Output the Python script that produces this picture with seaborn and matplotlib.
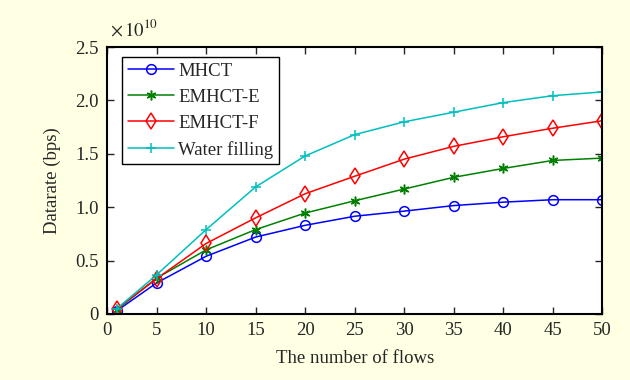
import numpy as np
import pandas as pd
import matplotlib
matplotlib.use("Agg")
import matplotlib.pyplot as plt
import seaborn as sns

# data (values in units of 1e10 bps)
flows = [1, 5, 10, 15, 20, 25, 30, 35, 40, 45, 50]
mhct = [0.03, 0.29, 0.54, 0.72, 0.83, 0.915, 0.963, 1.015, 1.047, 1.07, 1.07]
emhct_e = [0.04, 0.335, 0.60, 0.79, 0.945, 1.06, 1.17, 1.28, 1.363, 1.438, 1.46]
emhct_f = [0.05, 0.33, 0.66, 0.90, 1.126, 1.29, 1.45, 1.57, 1.66, 1.74, 1.81]
water = [0.05, 0.366, 0.79, 1.19, 1.48, 1.68, 1.80, 1.89, 1.98, 2.045, 2.08]

labels = ["MHCT", "EMHCT-E", "EMHCT-F", "Water filling"]
colors = ["#0000FF", "#008000", "#FF0000", "#00BFBF"]
markers = ["o", (6, 2, 0), "d", "+"]

df = pd.DataFrame({"flows": flows * 4,
                   "rate": mhct + emhct_e + emhct_f + water,
                   "scheme": sum([[l] * len(flows) for l in labels], [])})

sns.set_style("ticks")
plt.rcParams["font.family"] = ["Liberation Serif", "DejaVu Serif"]
plt.rcParams["mathtext.fontset"] = "stix"

fig = plt.figure(figsize=(6.3, 3.8), dpi=100, facecolor="#FFFFE4")
ax = fig.add_axes([0.170, 0.174, 0.786, 0.702])
ax.set_facecolor("white")

sizes = [7, 7, 8, 7]
for lab, c, m, ms in zip(labels, colors, markers, sizes):
    sub = df[df["scheme"] == lab]
    sns.lineplot(data=sub, x="flows", y="rate", ax=ax, color=c, label=lab,
                 marker=m, markersize=ms, markerfacecolor="none",
                 markeredgecolor=c, markeredgewidth=1.1, linewidth=1.1)

ax.set_xlim(0, 50)
ax.set_ylim(0, 2.5)
ax.set_xticks(range(0, 51, 5))
ax.set_yticks([0, 0.5, 1.0, 1.5, 2.0, 2.5])
ax.set_yticklabels(["0", "0.5", "1.0", "1.5", "2.0", "2.5"])
ax.tick_params(direction="in", top=True, right=True, labelsize=13.5, length=5,
               width=1, pad=6)
for s in ax.spines.values():
    s.set_linewidth(1.5)
    s.set_color("black")

ax.set_xlabel("The number of flows", fontsize=13.5, labelpad=8)
ax.set_ylabel("Datarate (bps)", fontsize=13.5, labelpad=10)
ax.text(0.005, 1.03, r"$\times\,10^{10}$", transform=ax.transAxes, fontsize=13.5,
        ha="left", va="bottom")

leg = ax.legend(loc="upper left", bbox_to_anchor=(0.030, 0.962), fontsize=13.5,
                frameon=True, fancybox=False, edgecolor="black", framealpha=1,
                handlelength=2.5, handletextpad=0.2, borderpad=0.3,
                labelspacing=0.47, borderaxespad=0)
leg.get_frame().set_linewidth(1.0)

fig.savefig("out.png", dpi=100, facecolor=fig.get_facecolor())
